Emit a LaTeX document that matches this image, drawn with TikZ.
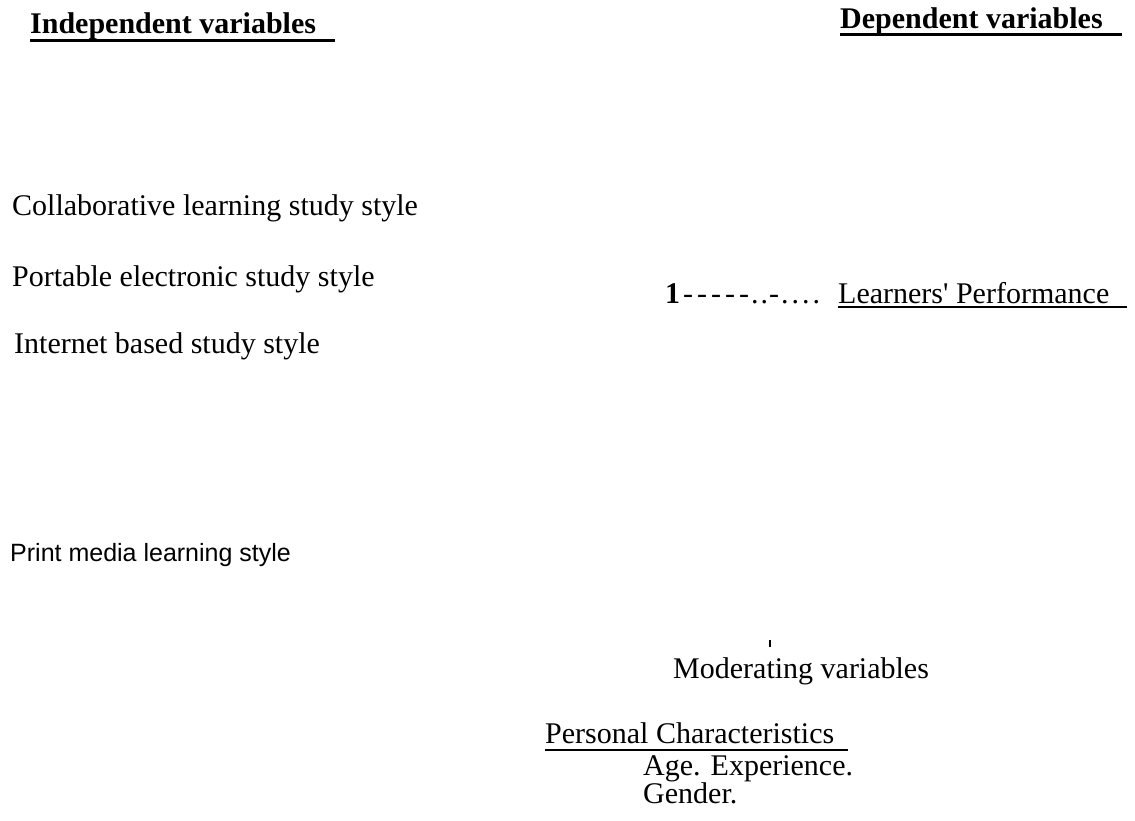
\documentclass[tikz,border=0pt]{standalone}
\usepackage{fontspec}
\setmainfont{Liberation Serif}[Ligatures=TeXOff]
\newfontfamily\arialfont{Liberation Sans}
\begin{document}
\begin{tikzpicture}[x=1pt,y=-1pt,
  txt/.style={anchor=base west, inner sep=0pt, font=\fontsize{30}{36}\selectfont},
  hdr/.style={anchor=base west, inner sep=0pt, font=\fontsize{30}{36}\selectfont\bfseries},
  sanstxt/.style={anchor=base west, inner sep=0pt, font=\fontsize{25}{30}\selectfont\arialfont},
  uline/.style={line width=2pt},
  huline/.style={line width=3pt}]
\useasboundingbox (0,0) rectangle (1135,820);
% headers
\node[hdr] (ind) at (30,33) {Independent variables};
\draw[huline] ([yshift=-7pt]ind.base west) -- ++(305,0);
\node[hdr] (dep) at (840,28) {Dependent variables};
\draw[huline] ([yshift=-6pt]dep.base west) -- ++(282,0);
% independent variables
\node[txt] (collab) at (12,215) {Collaborative learning study style};
\node[txt] (port) at (12,286) {Portable electronic study style};
\node[txt] (inet) at (14,353) {Internet based study style};
\node[sanstxt] (print) at (10,561) {Print media learning style};
% dependent
\node[txt] (dash) at (665,303) {\textbf{1}\kern3pt-\kern4pt-\kern4pt-\kern4pt-\kern4pt-\kern2pt.\kern2pt.\kern1pt-\kern2pt.\kern3pt.\kern3pt.\kern3pt.};
\node[txt] (perf) at (838,303) {Learners' Performance};
\draw[uline] ([yshift=-4pt]perf.base west) -- ++(289,0);
% moderating
\draw[line width=2pt] (770,640) -- (770,647);
\node[txt] (mod) at (673,678) {Moderating variables};
\node[txt] (pers) at (545,743) {Personal Characteristics};
\draw[uline] ([yshift=-7pt]pers.base west) -- ++(303,0);
\node[txt] (age) at (643,775) {Age. Experience.};
\node[txt] (gender) at (643,803) {Gender.};
\end{tikzpicture}
\end{document}
